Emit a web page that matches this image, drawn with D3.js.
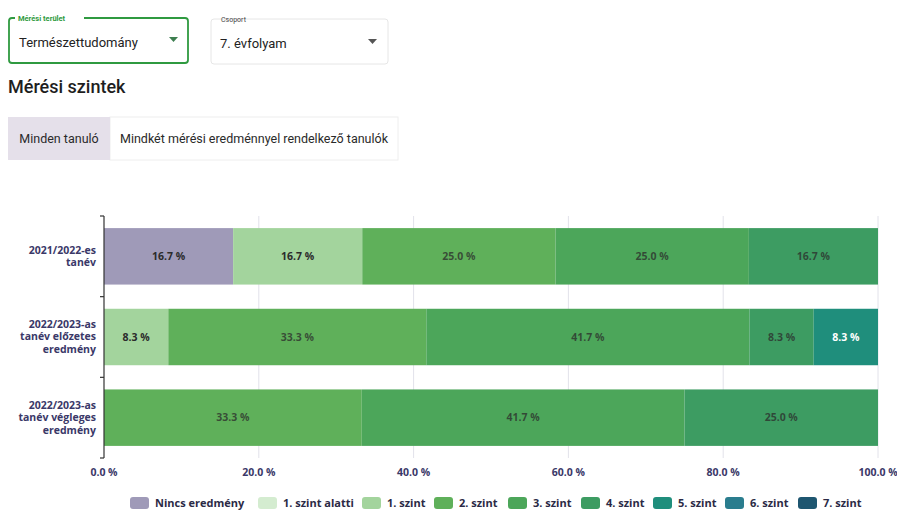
<!DOCTYPE html>
<html>
<head>
<meta charset="utf-8">
<script src="https://cdn.jsdelivr.net/npm/d3@7"></script>
<style>
  body { margin: 0; background: #fff; }
  svg { display: block; }
</style>
</head>
<body>
<div id="chart"></div>
<script>
// Data
const categories = [
    ['2021/2022-es', 'tanév'],
    ['2022/2023-as', 'tanév előzetes', 'eredmény'],
    ['2022/2023-as', 'tanév végleges', 'eredmény']
];
const seriesNames = ['Nincs eredmény', '1. szint alatti', '1. szint', '2. szint', '3. szint', '4. szint', '5. szint', '6. szint', '7. szint'];
const nincs = [16.7, 0, 0];
const szintAlatti = [0, 0, 0];
const szint1 = [16.7, 8.3, 0];
const szint2 = [25.0, 33.3, 33.3];
const szint3 = [25.0, 41.7, 41.7];
const szint4 = [16.7, 8.3, 25.0];
const szint5 = [0, 8.3, 0];
const szint6 = [0, 0, 0];
const szint7 = [0, 0, 0];
const xTicks = [0, 20, 40, 60, 80, 100];
const colors = ['#9f9ab8', '#d4ecd0', '#a3d49d', '#5fb05a', '#4ca65a', '#3d9c62', '#1f8e7c', '#2a7d8e', '#1e5670'];

const allSeries = [nincs, szintAlatti, szint1, szint2, szint3, szint4, szint5, szint6, szint7];
const rows = categories.map((c, i) => {
    const r = { key: i };
    seriesNames.forEach((s, j) => { r[s] = allSeries[j][i]; });
    return r;
});

const width = 897, height = 512;
const svg = d3.select('#chart').append('svg')
    .attr('width', width)
    .attr('height', height);

const uiFont = 'Roboto, sans-serif';
const chartFont = '"Open Sans", sans-serif';

// Dropdown 1 (outlined, focused)
svg.append('path')
    .attr('d', 'M15,18 L12,18 Q9,18 9,21 L9,60 Q9,63 12,63 L185,63 Q188,63 188,60 L188,21 Q188,18 185,18 L84,18')
    .attr('fill', 'none')
    .attr('stroke', '#2f9a40')
    .attr('stroke-width', 1.8);
svg.append('text').attr('x', 18).attr('y', 20.5)
    .style('font', 'bold 7.5px ' + uiFont).attr('fill', '#2f9a40')
    .text('Mérési terület');
svg.append('text').attr('x', 19).attr('y', 47)
    .style('font', '13px ' + uiFont).attr('fill', '#222')
    .text('Természettudomány');
svg.append('path').attr('d', 'M169,37 L178,37 L173.5,42 Z').attr('fill', '#3d7f50');

// Dropdown 2
svg.append('rect').attr('x', 211).attr('y', 19).attr('width', 177).attr('height', 45)
    .attr('rx', 3).attr('fill', '#fff').attr('stroke', '#e6e6e6');
svg.append('text').attr('x', 221).attr('y', 22)
    .style('font', '7px ' + uiFont).attr('fill', '#444')
    .text('Csoport');
svg.append('text').attr('x', 220).attr('y', 48)
    .style('font', '13px ' + uiFont).attr('fill', '#222')
    .text('7. évfolyam');
svg.append('path').attr('d', 'M368,39 L377,39 L372.5,44 Z').attr('fill', '#555');

// Title
svg.append('text').attr('x', 8).attr('y', 93)
    .style('font', '500 18px ' + uiFont).attr('fill', '#1e1e1e')
    .text('Mérési szintek');

// Tabs
svg.append('rect').attr('x', 110).attr('y', 117).attr('width', 288).attr('height', 43)
    .attr('fill', '#fff').attr('stroke', '#eeeeee');
svg.append('rect').attr('x', 8).attr('y', 117).attr('width', 102).attr('height', 43)
    .attr('fill', '#e5e0ea');
svg.append('text').attr('x', 59).attr('y', 143).attr('text-anchor', 'middle')
    .style('font', '12.5px ' + uiFont).attr('fill', '#2a2a2a')
    .text('Minden tanuló');
svg.append('text').attr('x', 254).attr('y', 143).attr('text-anchor', 'middle')
    .style('font', '12.5px ' + uiFont).attr('fill', '#2a2a2a')
    .text('Mindkét mérési eredménnyel rendelkező tanulók');

// Chart
const x = d3.scaleLinear().domain([0, 1]).range([104, 878]);
const y = d3.scaleBand().domain(rows.map(d => d.key)).range([216, 458]).paddingInner(0.3).paddingOuter(0.15);

const stack = d3.stack().keys(seriesNames).offset(d3.stackOffsetExpand);
const stacked = stack(rows);

// Gridlines
svg.append('g').selectAll('line')
    .data(xTicks.slice(1))
    .join('line')
    .attr('x1', d => x(d / 100)).attr('x2', d => x(d / 100))
    .attr('y1', 216).attr('y2', 458)
    .attr('stroke', '#e2e2ea').attr('stroke-width', 1);

// Bars
const layer = svg.append('g').selectAll('g')
    .data(stacked)
    .join('g')
    .attr('fill', (d, i) => colors[i]);

layer.selectAll('rect')
    .data(d => d.map(p => ({ p, key: d.key })))
    .join('rect')
    .attr('x', d => x(d.p[0]))
    .attr('y', d => y(d.p.data.key))
    .attr('width', d => x(d.p[1]) - x(d.p[0]))
    .attr('height', y.bandwidth());

// Bar labels
layer.selectAll('text')
    .data(d => d.map(p => ({ p, key: d.key })).filter(d => d.p.data[d.key] > 0))
    .join('text')
    .attr('x', d => (x(d.p[0]) + x(d.p[1])) / 2)
    .attr('y', d => y(d.p.data.key) + y.bandwidth() / 2)
    .attr('dy', '0.35em')
    .attr('text-anchor', 'middle')
    .style('font', 'bold 10.5px ' + chartFont)
    .attr('fill', d => d.key === '5. szint' ? '#fff' : '#2b2b2b')
    .attr('fill-opacity', d => ['Nincs eredmény', '1. szint', '5. szint'].includes(d.key) ? 1 : 0.75)
    .text(d => d.p.data[d.key].toFixed(1) + ' %');

// Y axis
const yAxis = svg.append('g');
const [yTop, yBottom] = y.range();
yAxis.append('line').attr('x1', 104).attr('x2', 104).attr('y1', yTop).attr('y2', yBottom)
    .attr('stroke', '#333').attr('stroke-width', 1.2);
yAxis.selectAll('.tick')
    .data(d3.range(categories.length + 1))
    .join('line')
    .attr('x1', 100).attr('x2', 104)
    .attr('y1', i => yTop + i * (yBottom - yTop) / categories.length)
    .attr('y2', i => yTop + i * (yBottom - yTop) / categories.length)
    .attr('stroke', '#333').attr('stroke-width', 1.2);

const catLabels = yAxis.selectAll('text')
    .data(rows)
    .join('text')
    .attr('text-anchor', 'end')
    .style('font', 'bold 10.5px ' + chartFont)
    .attr('fill', '#3a3868');
catLabels.each(function (d) {
    const lines = categories[d.key];
    const cy = y(d.key) + y.bandwidth() / 2;
    const lh = 12.5;
    const top = cy - (lines.length - 1) * lh / 2;
    d3.select(this).selectAll('tspan')
        .data(lines)
        .join('tspan')
        .attr('x', 96)
        .attr('y', (l, i) => top + i * lh)
        .attr('dy', '0.33em')
        .text(l => l);
});

// X axis labels
svg.append('g').selectAll('text')
    .data(xTicks)
    .join('text')
    .attr('x', d => x(d / 100))
    .attr('y', 476)
    .attr('text-anchor', 'middle')
    .style('font', 'bold 10.5px ' + chartFont)
    .attr('fill', '#3a3868')
    .text(d => d.toFixed(1) + ' %');

// Legend
const legendX = [130, 258, 362, 434, 508, 581, 653, 725, 798];
const legend = svg.append('g').selectAll('g')
    .data(seriesNames)
    .join('g')
    .attr('transform', (d, i) => `translate(${legendX[i]},497)`);
legend.append('rect')
    .attr('width', 19).attr('height', 12).attr('rx', 3)
    .attr('fill', (d, i) => colors[i]);
legend.append('text')
    .attr('x', 25).attr('y', 6).attr('dy', '0.35em')
    .style('font', 'bold 11px ' + chartFont)
    .attr('fill', '#2b2a45')
    .text(d => d);
</script>
</body>
</html>
